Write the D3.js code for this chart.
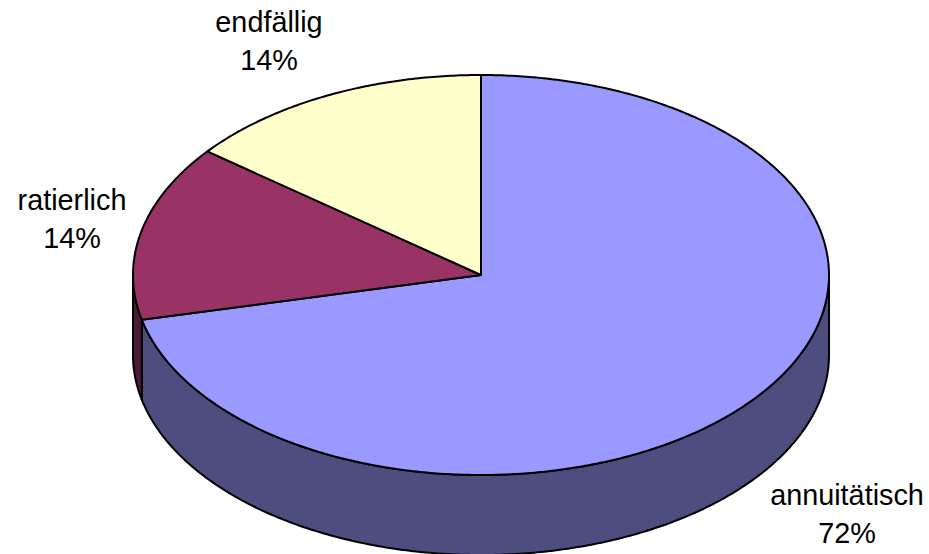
<!DOCTYPE html>
<html>
<head>
<meta charset="utf-8">
<script src="https://cdn.jsdelivr.net/npm/d3@7"></script>
<style>
html, body { margin: 0; padding: 0; background: #fff; }
svg { display: block; }
text { font-family: "Liberation Sans", Arial, sans-serif; font-size: 28.8px; fill: #000; }
</style>
</head>
<body>
<div id="chart"></div>
<script>
// slice shares, the printed labels are rounded
var categories = ["annuitätisch", "ratierlich", "endfällig"];
var shares = [71.4, 14.2, 14.4];
var percentLabels = ["72%", "14%", "14%"];
var topColors = ["#9999ff", "#993366", "#ffffcc"];
var sideColors = ["#4d4d80", "#4d1a33", "#808066"];

var width = 929, height = 554;
var depth = 80;
// label centre and first baseline for each slice
var labelPos = [[847, 505], [72, 210], [269, 32]];

var svg = d3.select("#chart").append("svg")
    .attr("width", width)
    .attr("height", height);

// the unit circle squashed into the tilted ellipse
var x = d3.scaleLinear().domain([-1, 1]).range([133, 829]);
var y = d3.scaleLinear().domain([1, -1]).range([75, 475]);

var pie = d3.pie().sort(null).value(function(d) { return d; })
    .startAngle(0).endAngle(2 * Math.PI);
var arcs = pie(shares);

var line = d3.line()
    .x(function(d) { return d[0]; })
    .y(function(d) { return d[1]; });

function rim(a0, a1, dy) {
    var pts = [];
    var n = Math.max(2, Math.ceil((a1 - a0) / 0.01));
    for (var i = 0; i <= n; i++) {
        var a = a0 + (a1 - a0) * i / n;
        pts.push([x(Math.sin(a)), y(Math.cos(a)) + dy]);
    }
    return pts;
}

// side wall, only the front half of the disc shows
arcs.forEach(function(d, i) {
    var a0 = Math.max(d.startAngle, Math.PI / 2);
    var a1 = Math.min(d.endAngle, 3 * Math.PI / 2);
    if (a1 <= a0) return;
    var pts = rim(a0, a1, 0).concat(rim(a0, a1, depth).reverse());
    svg.append("path")
        .attr("d", line(pts) + "Z")
        .attr("fill", sideColors[i])
        .attr("stroke", "#000")
        .attr("stroke-width", 2)
        .attr("stroke-linejoin", "round");
});

// top face
svg.selectAll(".slice")
    .data(arcs)
    .enter().append("path")
        .attr("class", "slice")
        .attr("d", function(d) {
            return line([[x(0), y(0)]].concat(rim(d.startAngle, d.endAngle, 0))) + "Z";
        })
        .attr("fill", function(d, i) { return topColors[i]; })
        .attr("stroke", "#000")
        .attr("stroke-width", 2)
        .attr("stroke-linejoin", "round");

categories.forEach(function(c, i) {
    svg.append("text")
        .attr("x", labelPos[i][0])
        .attr("y", labelPos[i][1])
        .attr("text-anchor", "middle")
        .text(c);
    svg.append("text")
        .attr("x", labelPos[i][0])
        .attr("y", labelPos[i][1] + 38)
        .attr("text-anchor", "middle")
        .text(percentLabels[i]);
});
</script>
</body>
</html>
